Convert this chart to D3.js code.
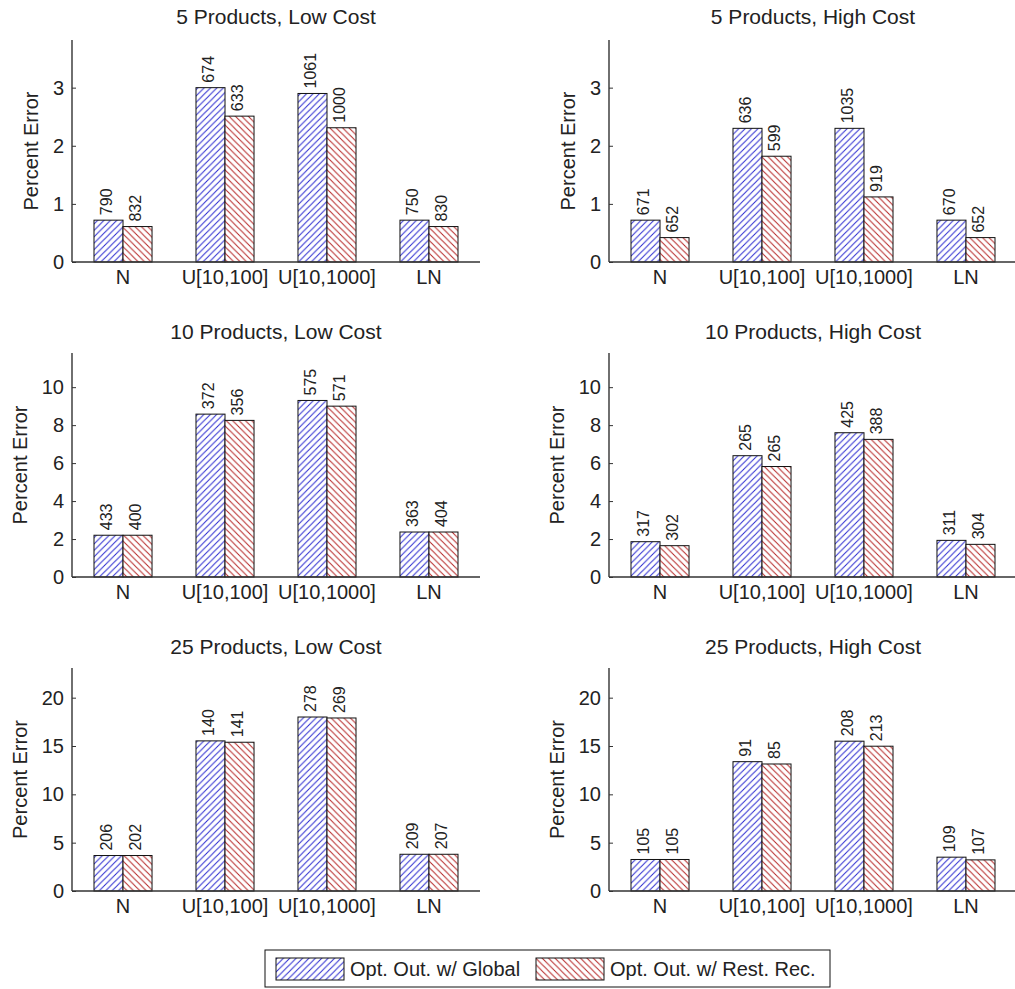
<!DOCTYPE html>
<html>
<head>
<meta charset="utf-8">
<script src="https://cdn.jsdelivr.net/npm/d3@7"></script>
<style>
  html, body { margin: 0; padding: 0; background: #fff; }
  svg { display: block; }
  text { font-family: "Liberation Sans", Arial, Helvetica, sans-serif; fill: #222; }
</style>
</head>
<body>
<svg id="chart" width="1015" height="989"></svg>
<script>
// Distribution categories along each x axis
const categories = ["N", "U[10,100]", "U[10,1000]", "LN"];
const seriesNames = ["Opt. Out. w/ Global", "Opt. Out. w/ Rest. Rec."];

// One entry per panel, row by row (5, 10, 25 products; low / high cost)
const panelTitles = [
  "5 Products, Low Cost", "5 Products, High Cost",
  "10 Products, Low Cost", "10 Products, High Cost",
  "25 Products, Low Cost", "25 Products, High Cost"
];

// Percent error, global optimisation
const globalValues = [
  [0.72, 3.00, 2.90, 0.72],
  [0.72, 2.30, 2.30, 0.72],
  [2.20, 8.58, 9.30, 2.37],
  [1.86, 6.39, 7.60, 1.93],
  [3.67, 15.53, 18.00, 3.80],
  [3.26, 13.38, 15.50, 3.50]
];

// Percent error, restricted recursion
const restValues = [
  [0.61, 2.51, 2.31, 0.61],
  [0.42, 1.82, 1.12, 0.42],
  [2.20, 8.25, 9.00, 2.37],
  [1.65, 5.82, 7.25, 1.72],
  [3.67, 15.39, 17.90, 3.80],
  [3.26, 13.14, 14.98, 3.22]
];

// Counts printed above each bar
const globalCounts = [
  [790, 674, 1061, 750],
  [671, 636, 1035, 670],
  [433, 372, 575, 363],
  [317, 265, 425, 311],
  [206, 140, 278, 209],
  [105, 91, 208, 109]
];
const restCounts = [
  [832, 633, 1000, 830],
  [652, 599, 919, 652],
  [400, 356, 571, 404],
  [302, 265, 388, 304],
  [202, 141, 269, 207],
  [105, 85, 213, 107]
];

// Y axis upper limits and tick values per panel
const yMax = [3.82, 3.82, 11.8, 11.8, 23.07, 23.07];
const yTicks = [
  [0, 1, 2, 3], [0, 1, 2, 3],
  [0, 2, 4, 6, 8, 10], [0, 2, 4, 6, 8, 10],
  [0, 5, 10, 15, 20], [0, 5, 10, 15, 20]
];

const yLabel = "Percent Error";

// ---- layout ----
const colX = [72, 609];
const plotW = 408;
const rowTop = [40, 353, 668];
const rowBottom = [262, 577, 891];
const titleBaseline = [24, 339, 654];

const svg = d3.select("#chart");
const defs = svg.append("defs");

const hatchColors = ["#2a2ad0", "#b52525"];
const hatchSize = 6.4;

function makeHatch(id, color, forward) {
  const s = hatchSize;
  const p = defs.append("pattern")
    .attr("id", id)
    .attr("patternUnits", "userSpaceOnUse")
    .attr("width", s).attr("height", s);
  p.append("rect").attr("width", s).attr("height", s).attr("fill", "#fff");
  const d = forward
    ? `M0,${s} L${s},0 M${-s / 4},${s / 4} L${s / 4},${-s / 4} M${s * 3 / 4},${s * 5 / 4} L${s * 5 / 4},${s * 3 / 4}`
    : `M0,0 L${s},${s} M${-s / 4},${s * 3 / 4} L${s / 4},${s * 5 / 4} M${s * 3 / 4},${-s / 4} L${s * 5 / 4},${s / 4}`;
  p.append("path").attr("d", d).attr("stroke", color).attr("stroke-width", 1).attr("fill", "none");
}
makeHatch("hatch-global", hatchColors[0], true);
makeHatch("hatch-rest", hatchColors[1], false);
const fills = ["url(#hatch-global)", "url(#hatch-rest)"];

const axisColor = "#333";

panelTitles.forEach((title, i) => {
  const row = Math.floor(i / 2), col = i % 2;
  const left = colX[col], top = rowTop[row], bottom = rowBottom[row];
  const g = svg.append("g");

  const x0 = d3.scaleBand()
    .domain(categories)
    .range([left, left + plotW])
    .paddingInner(0.431)
    .paddingOuter(0.2157);
  const x1 = d3.scaleBand()
    .domain(seriesNames)
    .range([0, x0.bandwidth()]);
  const y = d3.scaleLinear().domain([0, yMax[i]]).range([bottom, top]);

  // title
  g.append("text")
    .attr("x", left + plotW / 2)
    .attr("y", titleBaseline[row])
    .attr("text-anchor", "middle")
    .style("font-size", "21px")
    .text(title);

  // bars
  const rows = categories.map((c, k) => ({
    cat: c,
    items: [
      { s: seriesNames[0], v: globalValues[i][k], n: globalCounts[i][k], f: fills[0] },
      { s: seriesNames[1], v: restValues[i][k], n: restCounts[i][k], f: fills[1] }
    ]
  }));

  const groups = g.selectAll("g.grp").data(rows).join("g")
    .attr("class", "grp")
    .attr("transform", d => `translate(${x0(d.cat)},0)`);

  groups.selectAll("rect").data(d => d.items).join("rect")
    .attr("x", d => x1(d.s))
    .attr("y", d => y(d.v))
    .attr("width", x1.bandwidth())
    .attr("height", d => y(0) - y(d.v))
    .attr("fill", d => d.f)
    .attr("stroke", "#111")
    .attr("stroke-width", 1);

  groups.selectAll("text").data(d => d.items).join("text")
    .attr("transform", d => {
      const tx = x1(d.s) + x1.bandwidth() / 2 + 3.5;
      const ty = y(d.v) - 5;
      return `translate(${tx},${ty}) rotate(-90)`;
    })
    .attr("text-anchor", "start")
    .style("font-size", "16px")
    .text(d => d.n);

  // y axis
  const yAxisG = g.append("g").attr("transform", `translate(${left},0)`)
    .call(d3.axisLeft(y).tickValues(yTicks[i]).tickFormat(d3.format("d")).tickSizeInner(-4).tickSizeOuter(0).tickPadding(8));
  yAxisG.select(".domain").remove();
  yAxisG.selectAll(".tick line").attr("stroke", axisColor);
  yAxisG.selectAll(".tick text")
    .style("font-size", "20px")
    .style("font-family", "'Liberation Sans', Arial, sans-serif")
    .attr("fill", "#222");
  g.append("line")
    .attr("x1", left).attr("x2", left)
    .attr("y1", top).attr("y2", bottom)
    .attr("stroke", axisColor).attr("stroke-width", 1.4);

  // x axis
  const xAxisG = g.append("g").attr("transform", `translate(0,${bottom})`)
    .call(d3.axisBottom(x0).tickSize(0).tickPadding(8));
  xAxisG.select(".domain").remove();
  xAxisG.selectAll(".tick text")
    .style("font-size", "20px")
    .style("font-family", "'Liberation Sans', Arial, sans-serif")
    .attr("fill", "#222")
    .attr("dy", "0.71em");
  g.append("line")
    .attr("x1", left).attr("x2", left + plotW)
    .attr("y1", bottom).attr("y2", bottom)
    .attr("stroke", axisColor).attr("stroke-width", 1.4);

  // y label placed clear of the widest tick label
  let maxW = 0;
  yAxisG.selectAll(".tick text").each(function () {
    maxW = Math.max(maxW, this.getComputedTextLength());
  });
  const lx = left - 8 - maxW - 15;
  g.append("text")
    .attr("transform", `translate(${lx},${(top + bottom) / 2}) rotate(-90)`)
    .attr("text-anchor", "middle")
    .style("font-size", "20px")
    .text(yLabel);
});

// legend
const legend = svg.append("g");
legend.append("rect")
  .attr("x", 265).attr("y", 950).attr("width", 565).attr("height", 37)
  .attr("fill", "#fff").attr("stroke", "#111").attr("stroke-width", 1);
const legendX = [276, 536];
seriesNames.forEach((name, k) => {
  legend.append("rect")
    .attr("x", legendX[k]).attr("y", 958).attr("width", 68).attr("height", 22)
    .attr("fill", fills[k]).attr("stroke", "#111").attr("stroke-width", 1);
  legend.append("text")
    .attr("x", legendX[k] + 74).attr("y", 976)
    .style("font-size", "20px")
    .text(name);
});
</script>
</body>
</html>
